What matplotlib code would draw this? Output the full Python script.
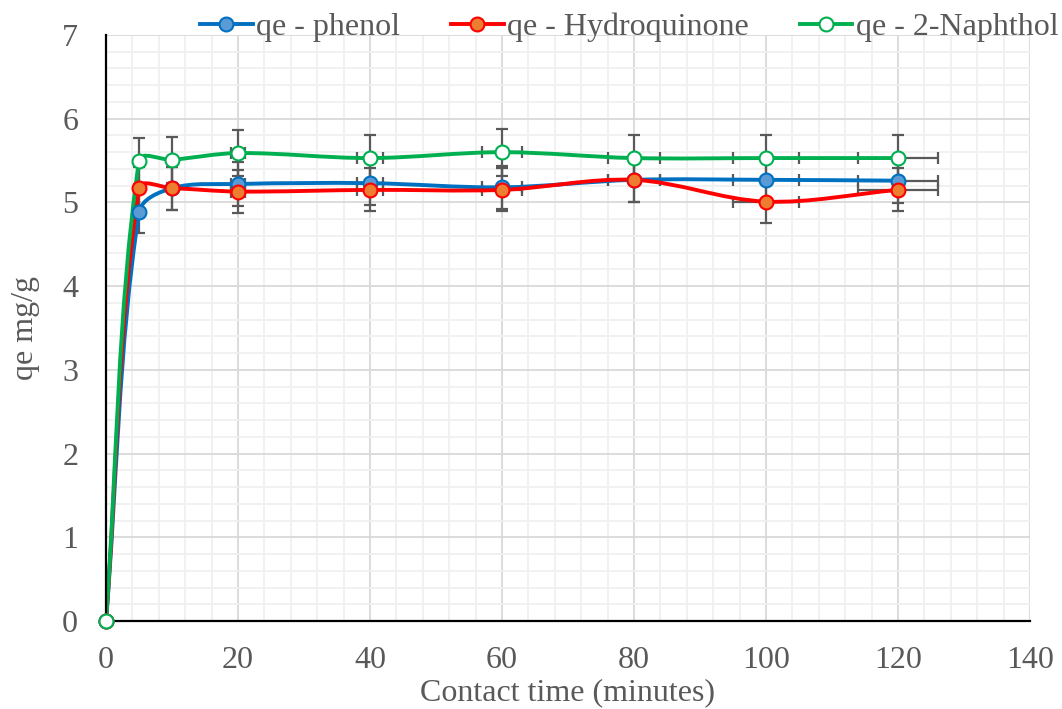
import numpy as np
import matplotlib.pyplot as plt
from matplotlib.path import Path
from matplotlib.patches import PathPatch
from matplotlib.lines import Line2D

# data
time = [0, 5, 10, 20, 40, 60, 80, 100, 120]
qe_phenol = [0, 4.88, 5.17, 5.22, 5.23, 5.18, 5.27, 5.27, 5.26]
qe_hydro = [0, 5.17, 5.17, 5.13, 5.15, 5.15, 5.27, 5.01, 5.15]
qe_naph = [0, 5.50, 5.51, 5.59, 5.53, 5.60, 5.53, 5.53, 5.53]
err_pct = 0.05

labels = ['qe - phenol', 'qe - Hydroquinone', 'qe - 2-Naphthol']
line_cols = ['#0070C0', '#FF0000', '#00B050']
face_cols = ['#5B9BD5', '#ED7D31', 'white']
grey = '#595959'

plt.rcParams['font.family'] = ['Liberation Serif', 'DejaVu Serif']

fig = plt.figure(figsize=(10.62, 7.09), dpi=100)
L, B, R, T = 106/1062, 1-621/709, 1030/1062, 1-35/709
ax = fig.add_axes([L, B, R-L, T-B])
ax.set_xlim(0, 140)
ax.set_ylim(0, 7)

# pixel scale so smoothing behaves like Excel
sx = (R-L)*1062/140
sy = (T-B)*709/7


def smooth_path(x, y):
    P = np.column_stack([np.array(x)*sx, np.array(y)*sy])
    n = len(P)
    tang = []
    for i in range(n):
        a = P[max(i-1, 0)]
        b = P[min(i+1, n-1)]
        d = b - a
        tang.append(d/np.linalg.norm(d))
    verts = [P[0]]
    codes = [Path.MOVETO]
    for i in range(n-1):
        seg = np.linalg.norm(P[i+1]-P[i])
        c1 = P[i] + tang[i]*seg/3
        c2 = P[i+1] - tang[i+1]*seg/3
        verts += [c1, c2, P[i+1]]
        codes += [Path.CURVE4]*3
    verts = np.array(verts)
    verts[:, 0] /= sx
    verts[:, 1] /= sy
    return Path(verts, codes)


series = [qe_phenol, qe_hydro, qe_naph]
for ys in series:
    xe = [err_pct*v for v in time]
    ye = [err_pct*v for v in ys]
    ax.errorbar(time[1:], ys[1:], xerr=xe[1:], yerr=ye[1:], fmt='none',
                ecolor=grey, elinewidth=1.6, capsize=4.5, capthick=1.6,
                zorder=3)

handles = []
for ys, lc, fc, lab in zip(series, line_cols, face_cols, labels):
    ax.add_patch(PathPatch(smooth_path(time, ys), fill=False, edgecolor=lc,
                           lw=2.8, zorder=4))
    ax.plot(time, ys, ls='none', marker='o', ms=10, mfc=fc, mec=lc,
            mew=1.5, zorder=7, clip_on=False)
    handles.append(Line2D([], [], color=lc, lw=2.8, marker='o', ms=10,
                          mfc=fc, mec=lc, mew=1.5))

ax.set_xticks(np.arange(0, 141, 20))
ax.set_yticks(np.arange(0, 8, 1))
ax.set_xticks(np.arange(0, 141, 4), minor=True)
ax.set_yticks(np.arange(0, 7.01, 0.2), minor=True)
ax.grid(which='major', color='#d9d9d9', lw=1.3, zorder=0)
ax.grid(which='minor', color='#f0f0f0', lw=1.3, zorder=0)
ax.set_axisbelow(True)
ax.tick_params(which='both', length=0, labelsize=23, colors=grey)
ax.tick_params(axis='y', pad=20)
ax.tick_params(axis='x', pad=18)
for s in ['top', 'right']:
    ax.spines[s].set_visible(False)
for s in ['left', 'bottom']:
    ax.spines[s].set_color('black')
    ax.spines[s].set_linewidth(1.6)
    ax.spines[s].set_zorder(6)

ax.set_xlabel('Contact time (minutes)', fontsize=23, color=grey, va='center')
ax.xaxis.set_label_coords(0.5, (621-693)/586)
ax.set_ylabel('qe mg/g', fontsize=23, color=grey, va='center')
ax.yaxis.set_label_coords((26-106)/924, 0.5)

fig.legend(handles, labels, loc='center', bbox_to_anchor=(629/1062, 1-27/709),
           ncol=3, frameon=False, fontsize=23, labelcolor=grey,
           handlelength=1.65, handletextpad=0.1, columnspacing=1.6,
           borderpad=0, borderaxespad=0)

fig.savefig('out.png', dpi=100)
